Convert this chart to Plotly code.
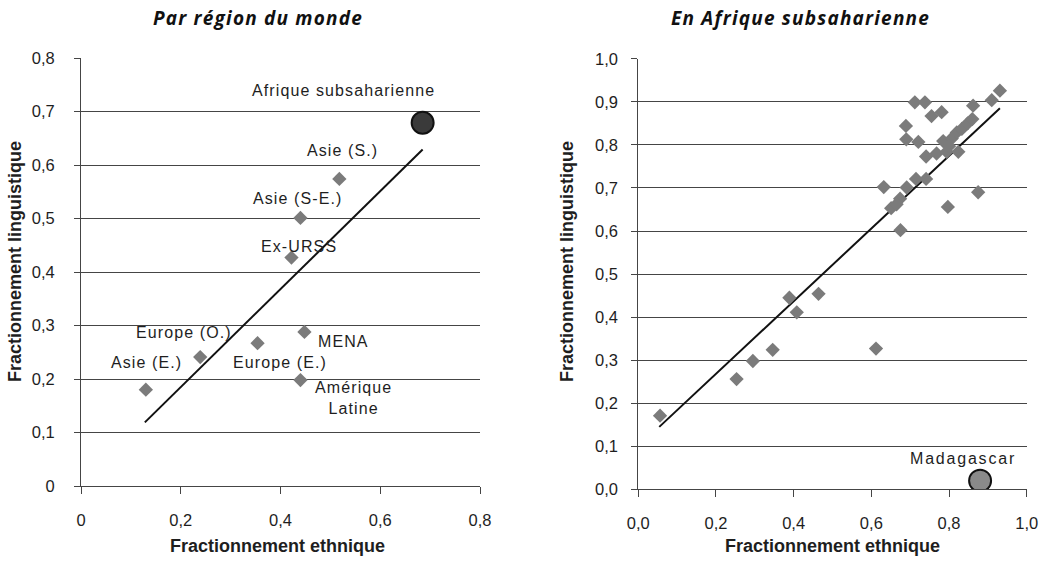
import plotly.graph_objects as go

# Par région du monde
region_names = ["Asie (E.)", "Europe (O.)", "Europe (E.)", "MENA", "Amérique<br>Latine",
                "Ex-URSS", "Asie (S-E.)", "Asie (S.)"]
region_eth = [0.130, 0.239, 0.354, 0.448, 0.440, 0.422, 0.440, 0.518]
region_ling = [0.180, 0.241, 0.267, 0.288, 0.198, 0.427, 0.501, 0.574]
ssa_name = "Afrique subsaharienne"
ssa_eth = [0.685]
ssa_ling = [0.679]
world_fit_x = [0.128, 0.685]
world_fit_y = [0.119, 0.629]

# En Afrique subsaharienne (pays)
country_eth = [0.056, 0.253, 0.295, 0.346, 0.389, 0.408, 0.464, 0.612, 0.632, 0.651,
               0.674, 0.675, 0.691, 0.689, 0.690, 0.721, 0.715, 0.741, 0.741, 0.712,
               0.738, 0.755, 0.781, 0.768, 0.785, 0.794, 0.807, 0.820, 0.824, 0.833,
               0.848, 0.860, 0.862, 0.797, 0.875, 0.910, 0.931, 0.800, 0.665]
country_ling = [0.171, 0.256, 0.298, 0.324, 0.445, 0.411, 0.454, 0.327, 0.702, 0.653,
                0.675, 0.602, 0.701, 0.844, 0.813, 0.807, 0.721, 0.721, 0.773, 0.899,
                0.899, 0.867, 0.876, 0.780, 0.809, 0.784, 0.815, 0.829, 0.784, 0.837,
                0.850, 0.860, 0.891, 0.656, 0.690, 0.904, 0.926, 0.797, 0.662]
mada_name = "Madagascar"
mada_eth = [0.880]
mada_ling = [0.020]
africa_fit_x = [0.054, 0.931]
africa_fit_y = [0.145, 0.885]

# label anchor points (data units) for the left panel
region_label_x = [0.131, 0.206, 0.399, 0.527, 0.547, 0.437, 0.434, 0.524]
region_label_y = [0.230, 0.286, 0.230, 0.271, 0.164, 0.448, 0.538, 0.627]

GRID = "#454545"
TXT = "#1e1e1e"
DIAMOND = "#7b7b7b"
FONT = "Liberation Sans, Arial, sans-serif"
W, H = 1049, 561


def spaced(text, px):
    return f'<span style="letter-spacing:{px}px">{text}</span>'


fig = go.Figure()

# left panel
fig.add_trace(go.Scatter(x=world_fit_x, y=world_fit_y, mode="lines",
                         line=dict(color="#111111", width=2), xaxis="x", yaxis="y"))
fig.add_trace(go.Scatter(x=region_eth, y=region_ling, mode="markers",
                         marker=dict(symbol="diamond", size=11, color=DIAMOND),
                         xaxis="x", yaxis="y"))
fig.add_trace(go.Scatter(x=ssa_eth, y=ssa_ling, mode="markers",
                         marker=dict(symbol="circle", size=22, color="#3a3a3a",
                                     line=dict(color="#111111", width=2)),
                         xaxis="x", yaxis="y"))

# right panel
fig.add_trace(go.Scatter(x=africa_fit_x, y=africa_fit_y, mode="lines",
                         line=dict(color="#111111", width=2), xaxis="x2", yaxis="y2"))
fig.add_trace(go.Scatter(x=country_eth, y=country_ling, mode="markers",
                         marker=dict(symbol="diamond", size=11, color=DIAMOND),
                         xaxis="x2", yaxis="y2"))
fig.add_trace(go.Scatter(x=mada_eth, y=mada_ling, mode="markers",
                         marker=dict(symbol="circle", size=22, color="#8a8a8a",
                                     line=dict(color="#111111", width=2)),
                         xaxis="x2", yaxis="y2"))

tick_font = dict(family=FONT, size=16.5, color=TXT)
xaxis_common = dict(showgrid=False, zeroline=False, showline=True, linecolor=GRID,
                    linewidth=1, ticks="outside", tickcolor=GRID, ticklen=7,
                    ticklabelstandoff=12, tickfont=tick_font, fixedrange=True,
                    automargin=False)
yaxis_common = dict(showgrid=True, gridcolor=GRID, gridwidth=1, zeroline=False,
                    showline=True, linecolor=GRID, linewidth=1, ticks="outside",
                    tickcolor=GRID, ticklen=6, tickfont=tick_font, fixedrange=True,
                    automargin=False)

fig.update_layout(
    width=W, height=H,
    margin=dict(l=0, r=0, t=0, b=0, pad=0),
    paper_bgcolor="white", plot_bgcolor="white",
    showlegend=False,
    separators=", ",
    xaxis=dict(domain=[81 / W, 480 / W], range=[0, 0.8], dtick=0.2, tick0=0,
               anchor="y", **xaxis_common),
    yaxis=dict(domain=[1 - 486 / H, 1 - 58 / H], range=[0, 0.8], dtick=0.1, tick0=0,
               anchor="x", ticklabelstandoff=16, **yaxis_common),
    xaxis2=dict(domain=[638.3 / W, 1026.7 / W], range=[0, 1.0], dtick=0.2, tick0=0,
                tickformat=".1f", anchor="y2", **xaxis_common),
    yaxis2=dict(domain=[1 - 489.3 / H, 1 - 58.8 / H], range=[0, 1.0], dtick=0.1, tick0=0,
                tickformat=".1f", anchor="x2", ticklabelstandoff=10, **yaxis_common),
)

ann_font = dict(family=FONT, size=16, color=TXT)
for text, x, y in zip(region_names, region_label_x, region_label_y):
    fig.add_annotation(x=x, y=y, xref="x", yref="y", text=spaced(text, 1.1),
                       showarrow=False, font=ann_font, align="center")
fig.add_annotation(x=0.527, y=0.739, xref="x", yref="y", text=spaced(ssa_name, 1.1),
                   showarrow=False, font=ann_font)
fig.add_annotation(x=0.835, y=0.072, xref="x2", yref="y2", text=spaced(mada_name, 1.8),
                   showarrow=False, font=ann_font)

# panel titles
panel_title_font = dict(family="Open Sans, Lato, sans-serif", size=19, color="#111111",
                        weight="bold", style="italic")
fig.add_annotation(x=258 / W, y=1 - 18 / H, xref="paper", yref="paper",
                   xanchor="center", yanchor="middle",
                   text=spaced("Par région du monde", 1.2),
                   showarrow=False, font=panel_title_font)
fig.add_annotation(x=800 / W, y=1 - 18 / H, xref="paper", yref="paper",
                   xanchor="center", yanchor="middle",
                   text=spaced("En Afrique subsaharienne", 1.2),
                   showarrow=False, font=panel_title_font)

# axis titles
axis_title_font = dict(family=FONT, size=18, color=TXT, weight="bold")
for cx in (277, 832):
    fig.add_annotation(x=cx / W, y=1 - 546 / H, xref="paper", yref="paper",
                       xanchor="center", yanchor="middle",
                       text="Fractionnement ethnique", showarrow=False,
                       font=axis_title_font)
for cx in (15, 567):
    fig.add_annotation(x=cx / W, y=1 - 262 / H, xref="paper", yref="paper",
                       xanchor="center", yanchor="middle", textangle=-90,
                       text="Fractionnement linguistique", showarrow=False,
                       font=axis_title_font)

fig.write_html("out.html")
